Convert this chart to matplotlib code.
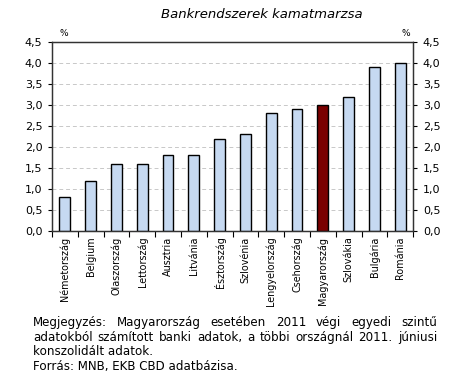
import matplotlib
matplotlib.use("Agg")
import matplotlib.pyplot as plt
from matplotlib.ticker import FixedLocator, NullFormatter

plt.rcParams['font.family'] = ['DejaVu Sans']

countries = ['Németország', 'Belgium', 'Olaszország', 'Lettország', 'Ausztria',
             'Litvánia', 'Észtország', 'Szlovénia', 'Lengyelország', 'Csehország',
             'Magyarország', 'Szlovákia', 'Bulgária', 'Románia']
margins = [0.8, 1.2, 1.6, 1.6, 1.8, 1.8, 2.2, 2.3, 2.8, 2.9, 3.0, 3.2, 3.9, 4.0]
highlight = 'Magyarország'
yticks = [0.0, 0.5, 1.0, 1.5, 2.0, 2.5, 3.0, 3.5, 4.0, 4.5]

note_lines = [
    "Megjegyzés: Magyarország esetében 2011 végi egyedi szintű",
    "adatokból számított banki adatok, a többi országnál 2011. júniusi",
    "konszolidált adatok.",
    "Forrás: MNB, EKB CBD adatbázisa.",
]

fig = plt.figure(figsize=(4.5, 3.79), dpi=100)
ax = fig.add_axes([0.1156, 0.3905, 0.8024, 0.4985])

colors = ['#7a0000' if c == highlight else '#c6d9f1' for c in countries]
x = range(len(countries))
ax.bar(x, margins, width=0.42, color=colors, edgecolor='black', linewidth=1.0, zorder=3)

ax.set_xlim(-0.5, len(countries) - 0.5)
ax.set_ylim(0, 4.5)
ax.set_yticks(yticks)
ax.set_yticklabels([f"{v:.1f}".replace('.', ',') for v in yticks], fontsize=8)
ax.yaxis.grid(True, linestyle=(0, (4, 3)), color='#c8c8c8', linewidth=0.7, zorder=0)

ax.set_xticks(list(x))
ax.set_xticklabels(countries, rotation=90, fontsize=6.9)
ax.tick_params(axis='x', which='major', length=0, pad=4)
ax.xaxis.set_minor_locator(FixedLocator([i - 0.5 for i in range(len(countries) + 1)]))
ax.xaxis.set_minor_formatter(NullFormatter())
ax.tick_params(axis='x', which='minor', length=4, width=0.8, direction='out')
ax.tick_params(axis='y', length=3, width=0.8, direction='out', pad=4)

ax2 = ax.twinx()
ax2.set_ylim(0, 4.5)
ax2.set_yticks(yticks)
ax2.set_yticklabels([f"{v:.1f}".replace('.', ',') for v in yticks], fontsize=8)
ax2.tick_params(axis='y', length=3, width=0.8, direction='out', pad=4)

for a in (ax, ax2):
    for s in a.spines.values():
        s.set_linewidth(0.9)
        s.set_color('#333333')

fig.text(0.133, 0.905, '%', fontsize=6.5)
fig.text(0.893, 0.905, '%', fontsize=6.5)
fig.text(0.582, 0.963, 'Bankrendszerek kamatmarzsa', fontsize=9.5, style='italic',
         ha='center', va='center')

# justified note block
left, right = 33 / 450, 437 / 450
ys = [0.140, 0.101, 0.064, 0.023]
fig.canvas.draw()
renderer = fig.canvas.get_renderer()
for i, (line, y) in enumerate(zip(note_lines, ys)):
    if i >= 2:
        fig.text(left, y, line, fontsize=8.6, va='baseline')
        continue
    words = line.split(' ')
    txts = [fig.text(0, y, w, fontsize=8.6, va='baseline') for w in words]
    widths = [t.get_window_extent(renderer).width / fig.bbox.width for t in txts]
    gap = (right - left - sum(widths)) / (len(words) - 1)
    pos = left
    for t, w in zip(txts, widths):
        t.set_x(pos)
        pos += w + gap

fig.savefig('out.png', dpi=100)
